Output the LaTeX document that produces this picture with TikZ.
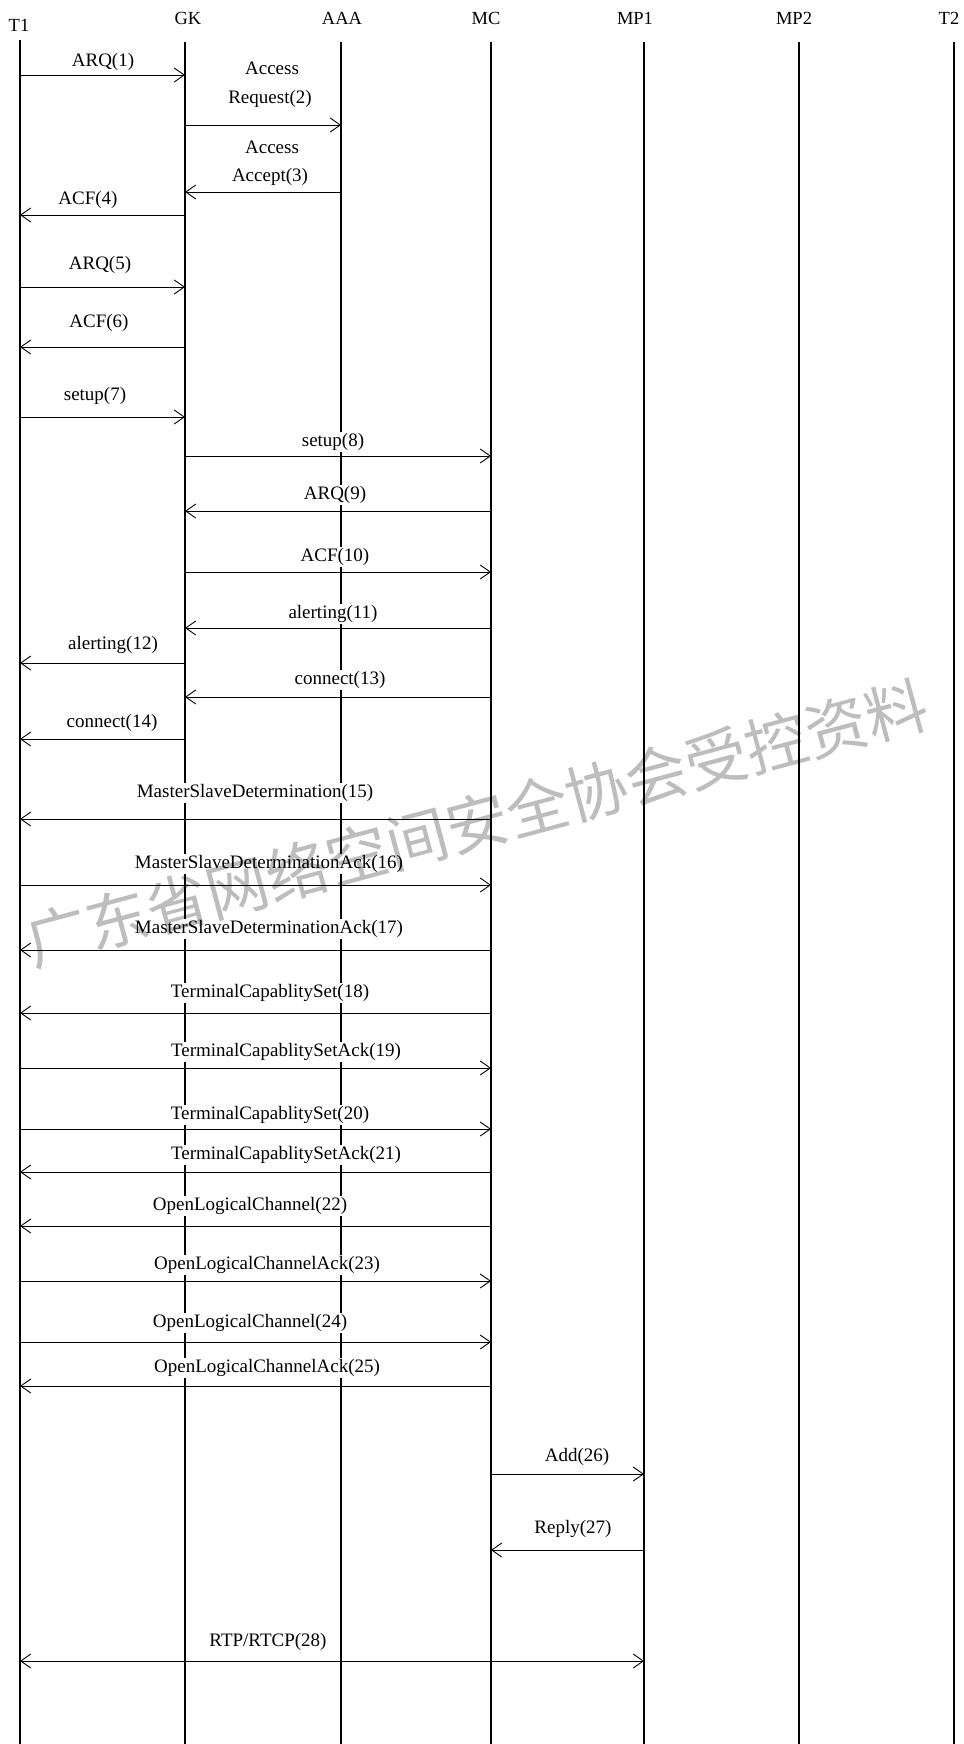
\documentclass[tikz,border=0pt]{standalone}
\usepackage{fontspec}
\setmainfont{Liberation Serif}
\newfontfamily\cjk{Noto Sans CJK SC}
\usetikzlibrary{arrows.meta}
\begin{document}
\begin{tikzpicture}[x=1pt,y=-1pt,
  life/.style={line width=2.6pt},
  barb/.tip={Straight Barb[length=10pt,width=14pt]},
  msgarrow/.style={line width=0.9pt,-{barb}},
  bothway/.style={line width=0.9pt,{barb}-{barb}},
  lbl/.style={fill=white,inner sep=1pt,font=\fontsize{19}{22}\selectfont},
  head/.style={inner sep=0pt,font=\fontsize{18.5}{22}\selectfont},
  wmark/.style={text=black,text opacity=0.26,font=\cjk\fontsize{62}{62}\selectfont,rotate=15}]
\useasboundingbox (0,0) rectangle (963,1744);
% heads
\node[head] (T1) at (19,25) {T1};
\node[head] (GK) at (188,18) {GK};
\node[head] (AAA) at (342,18) {AAA};
\node[head] (MC) at (486,18) {MC};
\node[head] (MP1) at (635,18) {MP1};
\node[head] (MP2) at (794,18) {MP2};
\node[head] (T2) at (949,18) {T2};
% lifelines
\coordinate (lT1) at (20,40);  \coordinate (eT1) at (20,1744);
\coordinate (lGK) at (185,42); \coordinate (eGK) at (185,1744);
\coordinate (lAAA) at (341,42); \coordinate (eAAA) at (341,1744);
\coordinate (lMC) at (491,42); \coordinate (eMC) at (491,1744);
\coordinate (lMP1) at (644,42); \coordinate (eMP1) at (644,1744);
\coordinate (lMP2) at (799,42); \coordinate (eMP2) at (799,1744);
\coordinate (lT2) at (954,42); \coordinate (eT2) at (954,1744);
\foreach \n in {T1,GK,AAA,MC,MP1,MP2,T2} \draw[life] (l\n) -- (e\n);
% rows
\coordinate (r1) at (0,75);   \coordinate (r2) at (0,125);  \coordinate (r3) at (0,192);
\coordinate (r4) at (0,215);  \coordinate (r5) at (0,287);  \coordinate (r6) at (0,347);
\coordinate (r7) at (0,417);  \coordinate (r8) at (0,456);  \coordinate (r9) at (0,511);
\coordinate (r10) at (0,572); \coordinate (r11) at (0,628); \coordinate (r12) at (0,663);
\coordinate (r13) at (0,697); \coordinate (r14) at (0,739); \coordinate (r15) at (0,819);
\coordinate (r16) at (0,885); \coordinate (r17) at (0,950); \coordinate (r18) at (0,1013);
\coordinate (r19) at (0,1068); \coordinate (r20) at (0,1129); \coordinate (r21) at (0,1172);
\coordinate (r22) at (0,1226); \coordinate (r23) at (0,1281); \coordinate (r24) at (0,1342);
\coordinate (r25) at (0,1386); \coordinate (r26) at (0,1474); \coordinate (r27) at (0,1550);
\coordinate (r28) at (0,1661);
% labels
\node[lbl] (m1) at (103,62) {ARQ(1)};
\node[lbl] (m2a) at (272,68) {Access};
\node[lbl] (m2b) at (270,99) {Request(2)};
\node[lbl] (m3a) at (272,147) {Access};
\node[lbl] (m3b) at (270,177) {Accept(3)};
\node[lbl] (m4) at (88,200) {ACF(4)};
\node[lbl] (m5) at (100,265) {ARQ(5)};
\node[lbl] (m6) at (99,323) {ACF(6)};
\node[lbl] (m7) at (95,396) {setup(7)};
\node[lbl] (m8) at (333,442) {setup(8)};
\node[lbl] (m9) at (335,495) {ARQ(9)};
\node[lbl] (m10) at (335,557) {ACF(10)};
\node[lbl] (m11) at (333,614) {alerting(11)};
\node[lbl] (m12) at (113,645) {alerting(12)};
\node[lbl] (m13) at (340,680) {connect(13)};
\node[lbl] (m14) at (112,723) {connect(14)};
\node[lbl] (m15) at (255,793) {MasterSlaveDetermination(15)};
\node[lbl] (m16) at (269,864) {MasterSlaveDeterminationAck(16)};
\node[lbl] (m17) at (269,929) {MasterSlaveDeterminationAck(17)};
\node[lbl] (m18) at (270,993) {TerminalCapablitySet(18)};
\node[lbl] (m19) at (286,1052) {TerminalCapablitySetAck(19)};
\node[lbl] (m20) at (270,1115) {TerminalCapablitySet(20)};
\node[lbl] (m21) at (286,1155) {TerminalCapablitySetAck(21)};
\node[lbl] (m22) at (250,1206) {OpenLogicalChannel(22)};
\node[lbl] (m23) at (267,1265) {OpenLogicalChannelAck(23)};
\node[lbl] (m24) at (250,1323) {OpenLogicalChannel(24)};
\node[lbl] (m25) at (267,1368) {OpenLogicalChannelAck(25)};
\node[lbl] (m26) at (577,1457) {Add(26)};
\node[lbl] (m27) at (573,1529) {Reply(27)};
\node[lbl] (m28) at (268,1642) {RTP/RTCP(28)};
% arrows
\draw[msgarrow] (lT1 |- r1) -- (lGK |- r1);
\draw[msgarrow] (lGK |- r2) -- (lAAA |- r2);
\draw[msgarrow] (lAAA |- r3) -- (lGK |- r3);
\draw[msgarrow] (lGK |- r4) -- (lT1 |- r4);
\draw[msgarrow] (lT1 |- r5) -- (lGK |- r5);
\draw[msgarrow] (lGK |- r6) -- (lT1 |- r6);
\draw[msgarrow] (lT1 |- r7) -- (lGK |- r7);
\draw[msgarrow] (lGK |- r8) -- (lMC |- r8);
\draw[msgarrow] (lMC |- r9) -- (lGK |- r9);
\draw[msgarrow] (lGK |- r10) -- (lMC |- r10);
\draw[msgarrow] (lMC |- r11) -- (lGK |- r11);
\draw[msgarrow] (lGK |- r12) -- (lT1 |- r12);
\draw[msgarrow] (lMC |- r13) -- (lGK |- r13);
\draw[msgarrow] (lGK |- r14) -- (lT1 |- r14);
\draw[msgarrow] (lMC |- r15) -- (lT1 |- r15);
\draw[msgarrow] (lT1 |- r16) -- (lMC |- r16);
\draw[msgarrow] (lMC |- r17) -- (lT1 |- r17);
\draw[msgarrow] (lMC |- r18) -- (lT1 |- r18);
\draw[msgarrow] (lT1 |- r19) -- (lMC |- r19);
\draw[msgarrow] (lT1 |- r20) -- (lMC |- r20);
\draw[msgarrow] (lMC |- r21) -- (lT1 |- r21);
\draw[msgarrow] (lMC |- r22) -- (lT1 |- r22);
\draw[msgarrow] (lT1 |- r23) -- (lMC |- r23);
\draw[msgarrow] (lT1 |- r24) -- (lMC |- r24);
\draw[msgarrow] (lMC |- r25) -- (lT1 |- r25);
\draw[msgarrow] (lMC |- r26) -- (lMP1 |- r26);
\draw[msgarrow] (lMP1 |- r27) -- (lMC |- r27);
\draw[bothway] (lT1 |- r28) -- (lMP1 |- r28);
% watermark
\node[wmark] (wm) at (477,823) {广东省网络空间安全协会受控资料};
\end{tikzpicture}
\end{document}
